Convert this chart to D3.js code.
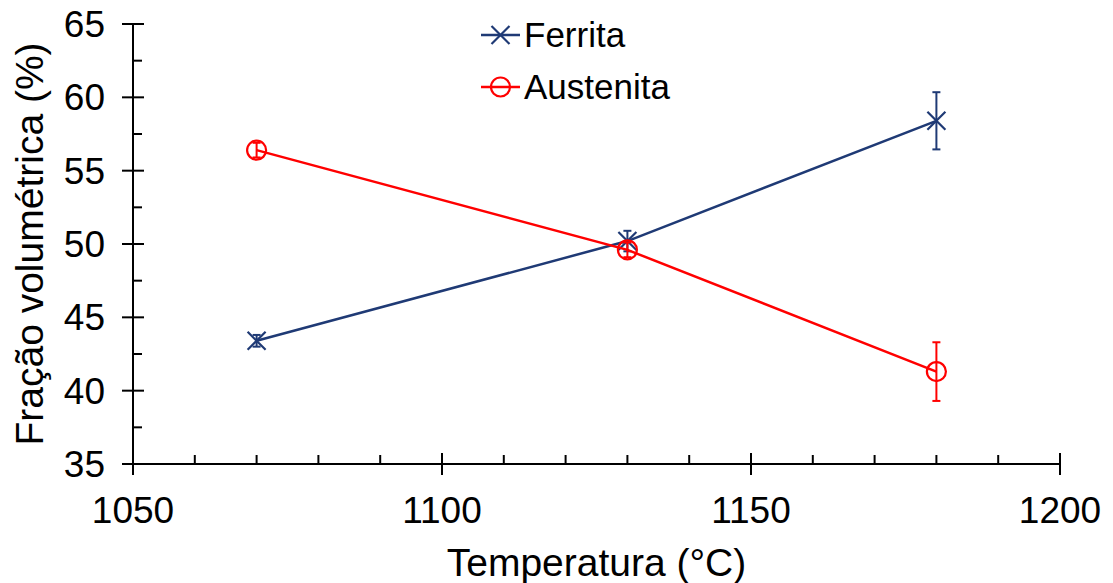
<!DOCTYPE html>
<html>
<head>
<meta charset="utf-8">
<script src="https://cdn.jsdelivr.net/npm/d3@7"></script>
<style>
  body { margin: 0; background: #fff; }
  svg text { font-family: Arial, "Liberation Sans", sans-serif; fill: #000; }
</style>
</head>
<body>
<script>
// data
const temperatures = [1070, 1130, 1180];
const ferrita = [43.4, 50.2, 58.4];
const ferritaErr = [0.4, 0.7, 1.95];
const austenita = [56.4, 49.6, 41.3];
const austenitaErr = [0.5, 0.5, 2.0];
const xTicks = [1050, 1100, 1150, 1200];
const yTicks = [35, 40, 45, 50, 55, 60, 65];

const width = 1113;
const height = 583;
const margin = { top: 24, right: 53, bottom: 119, left: 133 };

const BLUE = '#1f3a75';
const RED = '#ff0000';

const svg = d3.select('body').append('svg')
  .attr('width', width)
  .attr('height', height);

const x = d3.scaleLinear()
  .domain([1050, 1200])
  .range([margin.left, width - margin.right]);

const y = d3.scaleLinear()
  .domain([35, 65])
  .range([height - margin.bottom, margin.top]);

// y axis: major ticks cross the line, minor ticks inside
const yAxis = svg.append('g')
  .attr('class', 'y axis')
  .attr('transform', `translate(${margin.left},0)`);

yAxis.append('line')
  .attr('y1', y(35)).attr('y2', y(65))
  .attr('stroke', '#000').attr('stroke-width', 2);

yAxis.selectAll('line.major')
  .data(yTicks)
  .enter().append('line')
  .attr('class', 'major')
  .attr('x1', -11).attr('x2', 11)
  .attr('y1', d => y(d)).attr('y2', d => y(d))
  .attr('stroke', '#000').attr('stroke-width', 2);

yAxis.selectAll('line.minor')
  .data(d3.range(37.5, 65, 5))
  .enter().append('line')
  .attr('class', 'minor')
  .attr('x1', 0).attr('x2', 9)
  .attr('y1', d => y(d)).attr('y2', d => y(d))
  .attr('stroke', '#000').attr('stroke-width', 2);

yAxis.selectAll('text')
  .data(yTicks)
  .enter().append('text')
  .attr('x', -28)
  .attr('y', d => y(d))
  .attr('dy', '0.35em')
  .attr('text-anchor', 'end')
  .style('font-size', '37px')
  .text(d => d);

// x axis
const xAxis = svg.append('g')
  .attr('class', 'x axis')
  .attr('transform', `translate(0,${y(35)})`);

xAxis.append('line')
  .attr('x1', x(1050) - 11).attr('x2', x(1200))
  .attr('stroke', '#000').attr('stroke-width', 2);

xAxis.selectAll('line.major')
  .data(xTicks)
  .enter().append('line')
  .attr('class', 'major')
  .attr('x1', d => x(d)).attr('x2', d => x(d))
  .attr('y1', -11).attr('y2', 11)
  .attr('stroke', '#000').attr('stroke-width', 2);

xAxis.selectAll('line.minor')
  .data(d3.range(1060, 1200, 10).filter(d => d % 50 !== 0))
  .enter().append('line')
  .attr('class', 'minor')
  .attr('x1', d => x(d)).attr('x2', d => x(d))
  .attr('y1', -9).attr('y2', 0)
  .attr('stroke', '#000').attr('stroke-width', 2);

xAxis.selectAll('text')
  .data(xTicks)
  .enter().append('text')
  .attr('x', d => x(d))
  .attr('y', 59)
  .attr('text-anchor', 'middle')
  .style('font-size', '37px')
  .text(d => d);

// axis titles
svg.append('text')
  .attr('x', (x(1050) + x(1200)) / 2)
  .attr('y', 576)
  .attr('text-anchor', 'middle')
  .style('font-size', '39px')
  .text('Temperatura (°C)');

svg.append('text')
  .attr('transform', `translate(43,${(y(35) + y(65)) / 2}) rotate(-90)`)
  .attr('text-anchor', 'middle')
  .style('font-size', '39px')
  .text('Fração volumétrica (%)');

const line = d3.line()
  .x(d => x(d.t))
  .y(d => y(d.v));

function drawSeries (values, errors, color, marker) {
  const data = temperatures.map((t, i) => ({ t: t, v: values[i], e: errors[i] }));
  const g = svg.append('g').attr('class', 'series');

  g.append('path')
    .datum(data)
    .attr('d', line)
    .attr('fill', 'none')
    .attr('stroke', color)
    .attr('stroke-width', 2.5);

  const err = g.selectAll('g.err')
    .data(data)
    .enter().append('g')
    .attr('class', 'err')
    .attr('stroke', color)
    .attr('stroke-width', 2);

  err.append('line')
    .attr('x1', d => x(d.t)).attr('x2', d => x(d.t))
    .attr('y1', d => y(d.v + d.e)).attr('y2', d => y(d.v - d.e));
  err.append('line')
    .attr('x1', d => x(d.t) - 4).attr('x2', d => x(d.t) + 4)
    .attr('y1', d => y(d.v + d.e)).attr('y2', d => y(d.v + d.e));
  err.append('line')
    .attr('x1', d => x(d.t) - 4).attr('x2', d => x(d.t) + 4)
    .attr('y1', d => y(d.v - d.e)).attr('y2', d => y(d.v - d.e));

  const m = g.selectAll('g.marker')
    .data(data)
    .enter().append('g')
    .attr('class', 'marker')
    .attr('transform', d => `translate(${x(d.t)},${y(d.v)})`);
  marker(m, color);
}

function crossMarker (sel, color) {
  sel.append('path')
    .attr('d', 'M-9,-9L9,9M-9,9L9,-9')
    .attr('stroke', color)
    .attr('stroke-width', 2.2)
    .attr('fill', 'none');
}

function circleMarker (sel, color) {
  sel.append('circle')
    .attr('r', 9.5)
    .attr('stroke', color)
    .attr('stroke-width', 2.2)
    .attr('fill', 'none');
}

drawSeries(ferrita, ferritaErr, BLUE, crossMarker);
drawSeries(austenita, austenitaErr, RED, circleMarker);

// legend
const legendItems = [
  { name: 'Ferrita', color: BLUE, marker: crossMarker },
  { name: 'Austenita', color: RED, marker: circleMarker }
];

const legend = svg.append('g')
  .attr('class', 'legend')
  .attr('transform', 'translate(481,35)');

legendItems.forEach((item, i) => {
  const row = legend.append('g').attr('transform', `translate(0,${i * 52})`);
  row.append('line')
    .attr('x1', 0).attr('x2', 39)
    .attr('stroke', item.color)
    .attr('stroke-width', 2.5);
  const mk = row.append('g').attr('transform', 'translate(19.5,0)');
  item.marker(mk, item.color);
  row.append('text')
    .attr('x', 43)
    .attr('y', 0)
    .attr('dy', '0.35em')
    .style('font-size', '35px')
    .text(item.name);
});
</script>
</body>
</html>
